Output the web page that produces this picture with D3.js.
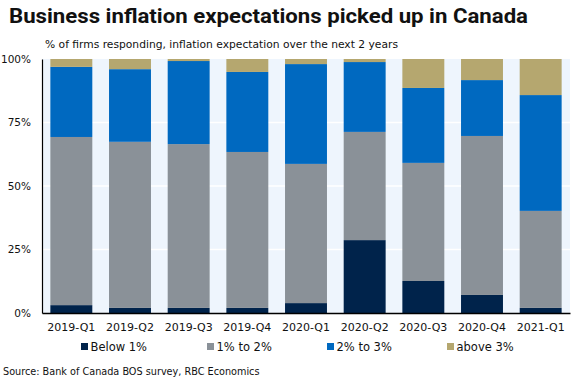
<!DOCTYPE html>
<html>
<head>
<meta charset="utf-8">
<script src="https://cdn.jsdelivr.net/npm/d3@7"></script>
<style>
  body { margin: 0; background: #fff; }
  svg { display: block; font-family: "DejaVu Sans", Verdana, sans-serif; }
</style>
</head>
<body>
<div class="svg-container"></div>
<script>
(function () {

	"use strict";

	// data (% of firms)
	var quarters = ["2019-Q1", "2019-Q2", "2019-Q3", "2019-Q4", "2020-Q1", "2020-Q2", "2020-Q3", "2020-Q4", "2021-Q1"];
	var below1 = [3.1, 2.0, 2.0, 2.0, 3.9, 28.7, 12.6, 7.1, 2.0];
	var one_to_two = [66.2, 65.4, 64.5, 61.4, 54.8, 42.6, 46.5, 62.6, 38.2];
	var two_to_three = [27.6, 28.6, 32.7, 31.5, 39.3, 27.5, 29.5, 22.0, 45.6];
	var above3 = [3.1, 4.0, 0.8, 5.1, 2.0, 1.2, 11.4, 8.3, 14.2];
	var series_names = ["Below 1%", "1% to 2%", "2% to 3%", "above 3%"];
	var y_ticks = [0, 25, 50, 75, 100];

	var colors = ["#00234b", "#8a9198", "#0069c0", "#b5a76f"];

	var W = 572, H = 386;
	var plot = { left: 42, right: 570, top: 59, bottom: 313 };

	var svg = d3.select(".svg-container").append("svg")
		.attr("width", W)
		.attr("height", H);

	// titles
	svg.append("text")
		.attr("x", 9)
		.attr("y", 23)
		.attr("font-size", 20)
		.attr("font-weight", "bold")
		.attr("font-family", "Roboto, 'DejaVu Sans', sans-serif")
		.attr("fill", "#111")
		.attr("textLength", 519)
		.attr("lengthAdjust", "spacingAndGlyphs")
		.text("Business inflation expectations picked up in Canada");

	svg.append("text")
		.attr("x", 45)
		.attr("y", 48)
		.attr("font-size", 11)
		.attr("fill", "#111")
		.attr("textLength", 353)
		.attr("lengthAdjust", "spacingAndGlyphs")
		.text("% of firms responding, inflation expectation over the next 2 years");

	var x = d3.scaleBand()
		.domain(quarters)
		.range([plot.left, plot.right])
		.paddingInner(0.285)
		.paddingOuter(0.1425);

	var y = d3.scaleLinear()
		.domain([0, 100])
		.range([plot.bottom, plot.top]);

	// plot background
	svg.append("rect")
		.attr("x", plot.left)
		.attr("y", plot.top)
		.attr("width", plot.right - plot.left)
		.attr("height", plot.bottom - plot.top)
		.attr("fill", "#eef5fd");

	// gridlines
	svg.selectAll(".grid")
		.data(y_ticks.filter(function (d) { return d > 0 && d < 100; }))
		.enter()
		.append("line")
		.attr("x1", plot.left)
		.attr("x2", plot.right)
		.attr("y1", function (d) { return y(d); })
		.attr("y2", function (d) { return y(d); })
		.attr("stroke", "#fff")
		.attr("stroke-width", 1.5);

	// stack
	var rows = quarters.map(function (q, i) {
		return { q: q, s0: below1[i], s1: one_to_two[i], s2: two_to_three[i], s3: above3[i] };
	});
	var stacked = d3.stack().keys(["s0", "s1", "s2", "s3"])(rows);

	svg.selectAll(".layer")
		.data(stacked)
		.enter()
		.append("g")
		.attr("fill", function (d, i) { return colors[i]; })
		.selectAll("rect")
		.data(function (d) { return d; })
		.enter()
		.append("rect")
		.attr("x", function (d) { return x(d.data.q); })
		.attr("width", x.bandwidth())
		.attr("y", function (d) { return y(Math.min(d[1], 100)); })
		.attr("height", function (d) { return y(d[0]) - y(Math.min(d[1], 100)); });

	// axes
	var yAxis = svg.append("g")
		.attr("transform", "translate(" + plot.left + ",0)")
		.call(d3.axisLeft(y).tickValues(y_ticks).tickSize(0).tickPadding(11)
			.tickFormat(function (d) { return d + "%"; }));
	yAxis.select(".domain").attr("stroke", "#000").attr("stroke-width", 1.2);
	yAxis.selectAll("text").attr("font-size", 10.5).attr("fill", "#111").attr("font-family", "DejaVu Sans");

	var xAxis = svg.append("g")
		.attr("transform", "translate(0," + plot.bottom + ")")
		.call(d3.axisBottom(x).tickSize(0).tickPadding(10));
	xAxis.select(".domain").attr("stroke", "#000").attr("stroke-width", 1.5);
	xAxis.selectAll("text").attr("font-size", 11).attr("fill", "#111").attr("font-family", "DejaVu Sans");

	// legend
	var legend_x = [81, 207, 327, 447];
	var legend = svg.selectAll(".legend")
		.data(series_names)
		.enter()
		.append("g")
		.attr("transform", function (d, i) { return "translate(" + legend_x[i] + ",351)"; });

	legend.append("rect")
		.attr("x", 0)
		.attr("y", -8)
		.attr("width", 7)
		.attr("height", 7)
		.attr("fill", function (d, i) { return colors[i]; });

	legend.append("text")
		.attr("x", 9.5)
		.attr("y", 0)
		.attr("font-size", 11.5)
		.attr("fill", "#111")
		.text(function (d) { return d; });

	svg.append("text")
		.attr("x", 3)
		.attr("y", 375)
		.attr("font-size", 9.7)
		.attr("fill", "#111")
		.text("Source: Bank of Canada BOS survey, RBC Economics");

})();
</script>
</body>
</html>
